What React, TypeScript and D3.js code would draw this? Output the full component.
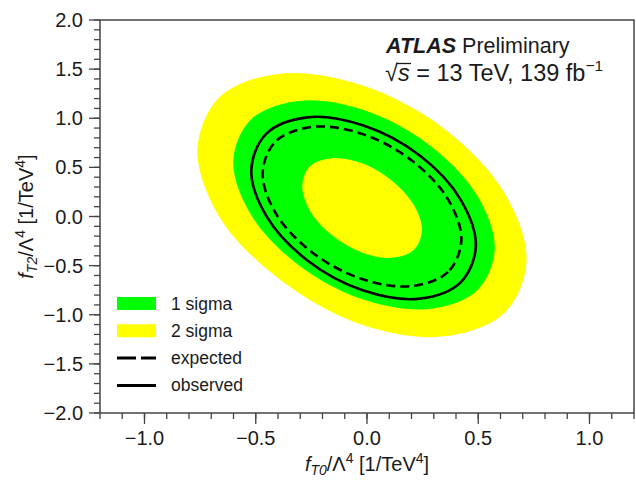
import React from "react";
import * as d3 from "d3";

// Axis ranges and tick labels
const xDomain: [number, number] = [-1.2, 1.2];
const yDomain: [number, number] = [-2.0, 2.0];
const xMajorTicks = [-1.0, -0.5, 0.0, 0.5, 1.0];
const yMajorTicks = [-2.0, -1.5, -1.0, -0.5, 0.0, 0.5, 1.0, 1.5, 2.0];

// Limit contours in the (fT0/Λ^4, fT2/Λ^4) plane, 1/TeV^4
const twoSigmaOuter: [number, number][] = [
  [0.717, -0.447], [0.618, -0.98], [0.348, -1.22], [-0.022, -1.101],
  [-0.392, -0.64], [-0.663, -0.004], [-0.762, 0.681], [-0.663, 1.214],
  [-0.392, 1.454], [-0.022, 1.335], [0.348, 0.891], [0.618, 0.238],
];
const oneSigmaOuter: [number, number][] = [
  [0.574, -0.33], [0.495, -0.752], [0.28, -0.941], [-0.013, -0.848],
  [-0.307, -0.495], [-0.522, 0.021], [-0.601, 0.564], [-0.522, 0.986],
  [-0.307, 1.176], [-0.013, 1.082], [0.28, 0.729], [0.495, 0.213],
];
const oneSigmaInner: [number, number][] = [
  [0.247, -0.142], [0.211, -0.339], [0.112, -0.421], [-0.022, -0.368],
  [-0.157, -0.192], [-0.256, 0.057], [-0.291, 0.316], [-0.256, 0.512],
  [-0.157, 0.594], [-0.022, 0.541], [0.112, 0.365], [0.211, 0.116],
];
const expectedLimit: [number, number][] = [
  [0.424, -0.24], [0.364, -0.564], [0.201, -0.708], [-0.022, -0.637],
  [-0.246, -0.366], [-0.409, 0.028], [-0.469, 0.444], [-0.409, 0.767],
  [-0.246, 0.912], [-0.022, 0.841], [0.201, 0.57], [0.364, 0.175],
];
const observedLimit: [number, number][] = [
  [0.489, -0.302], [0.421, -0.67], [0.237, -0.836], [-0.016, -0.753],
  [-0.268, -0.447], [-0.452, 0.003], [-0.52, 0.475], [-0.452, 0.843],
  [-0.268, 1.009], [-0.016, 0.926], [0.237, 0.62], [0.421, 0.17],
];

const legendLabels = ["1 sigma", "2 sigma", "expected", "observed"];

const YELLOW = "#ffff00";
const GREEN = "#00ff00";
const INK = "#1a1a1a";
const FRAME = "#444";
const FONT = "'Liberation Sans', Arial, Helvetica, sans-serif";

export default function App() {
  const W = 636;
  const H = 481;
  const left = 100, top = 20, right = 634, bottom = 413;

  const x = d3.scaleLinear().domain(xDomain).range([left, right]);
  const y = d3.scaleLinear().domain(yDomain).range([bottom, top]);

  const contour = d3
    .line<[number, number]>()
    .x((d) => x(d[0]))
    .y((d) => y(d[1]))
    .curve(d3.curveCatmullRomClosed.alpha(0.5));

  const xMinor = x.ticks(24);
  const yMinor = y.ticks(40);

  const legendX0 = 117;
  const legendX1 = 156;
  const legendY0 = 303.5;
  const legendStep = 27.3;

  const fmt = (t: number) => (t < 0 ? `\u2212${Math.abs(t).toFixed(1)}` : t.toFixed(1));

  return (
    <svg
      width={W}
      height={H}
      viewBox={`0 0 ${W} ${H}`}
      style={{ position: "fixed", left: 0, top: 0, background: "#fff" }}
      fontFamily={FONT}
    >
      <rect x={0} y={0} width={W} height={H} fill="#fff" />
      <defs>
        <clipPath id="plotArea">
          <rect x={left} y={top} width={right - left} height={bottom - top} />
        </clipPath>
      </defs>

      <g clipPath="url(#plotArea)">
        <path d={contour(twoSigmaOuter) ?? ""} fill={YELLOW} />
        <path d={contour(oneSigmaOuter) ?? ""} fill={GREEN} />
        <path d={contour(oneSigmaInner) ?? ""} fill={YELLOW} />
        <path
          d={contour(expectedLimit) ?? ""}
          fill="none"
          stroke="#000"
          strokeWidth={2.6}
          strokeDasharray="9 5"
        />
        <path d={contour(observedLimit) ?? ""} fill="none" stroke="#000" strokeWidth={2.6} />
      </g>

      {/* frame */}
      <rect
        x={left}
        y={top}
        width={right - left}
        height={bottom - top}
        fill="none"
        stroke={FRAME}
        strokeWidth={1.5}
      />

      {/* x axis ticks */}
      {xMinor.map((t) => (
        <line key={`xm${t}`} x1={x(t)} x2={x(t)} y1={bottom} y2={bottom + 6} stroke={FRAME} strokeWidth={1.3} />
      ))}
      {xMajorTicks.map((t) => (
        <g key={`xM${t}`}>
          <line x1={x(t)} x2={x(t)} y1={bottom} y2={bottom + 11} stroke={FRAME} strokeWidth={1.3} />
          <text x={x(t)} y={445} textAnchor="middle" fontSize={20} fill={INK}>
            {fmt(t)}
          </text>
        </g>
      ))}

      {/* y axis ticks */}
      {yMinor.map((t) => (
        <line key={`ym${t}`} x1={left - 6} x2={left} y1={y(t)} y2={y(t)} stroke={FRAME} strokeWidth={1.3} />
      ))}
      {yMajorTicks.map((t) => (
        <g key={`yM${t}`}>
          <line x1={left - 11} x2={left} y1={y(t)} y2={y(t)} stroke={FRAME} strokeWidth={1.3} />
          <text x={83} y={y(t) + 7} textAnchor="end" fontSize={20} fill={INK}>
            {fmt(t)}
          </text>
        </g>
      ))}

      {/* axis titles */}
      <text x={(left + right) / 2} y={471} textAnchor="middle" fontSize={20} fill={INK}>
        <tspan fontStyle="italic">f</tspan>
        <tspan fontStyle="italic" fontSize={14} dy={4}>T0</tspan>
        <tspan dy={-4}>/Λ</tspan>
        <tspan fontSize={14} dy={-8}>4</tspan>
        <tspan dy={8}> [1/TeV</tspan>
        <tspan fontSize={14} dy={-8}>4</tspan>
        <tspan dy={8}>]</tspan>
      </text>
      <text
        transform={`translate(33, ${(top + bottom) / 2}) rotate(-90)`}
        textAnchor="middle"
        fontSize={20}
        fill={INK}
      >
        <tspan fontStyle="italic">f</tspan>
        <tspan fontStyle="italic" fontSize={14} dy={4}>T2</tspan>
        <tspan dy={-4}>/Λ</tspan>
        <tspan fontSize={14} dy={-8}>4</tspan>
        <tspan dy={8}> [1/TeV</tspan>
        <tspan fontSize={14} dy={-8}>4</tspan>
        <tspan dy={8}>]</tspan>
      </text>

      {/* experiment label */}
      <text x={386} y={53} fontSize={21.5} fill={INK}>
        <tspan fontWeight="bold" fontStyle="italic">ATLAS</tspan>
        <tspan> Preliminary</tspan>
      </text>
      <text x={385} y={81} fontSize={23.5} fill={INK}>
        <tspan>√</tspan>
        <tspan fontStyle="italic">s</tspan>
        <tspan> = 13 TeV, 139 fb</tspan>
        <tspan fontSize={15.5} dy={-10}>−1</tspan>
      </text>
      <line x1={396.5} x2={411} y1={63.5} y2={63.5} stroke={INK} strokeWidth={1.3} />

      {/* legend */}
      <rect x={legendX0} y={legendY0 - 6.5} width={legendX1 - legendX0} height={13} fill={GREEN} />
      <rect x={legendX0} y={legendY0 + legendStep - 6.5} width={legendX1 - legendX0} height={13} fill={YELLOW} />
      <line
        x1={legendX0}
        x2={legendX1}
        y1={legendY0 + legendStep * 2}
        y2={legendY0 + legendStep * 2}
        stroke="#000"
        strokeWidth={3}
        strokeDasharray="19 5"
      />
      <line
        x1={legendX0}
        x2={legendX1}
        y1={legendY0 + legendStep * 3}
        y2={legendY0 + legendStep * 3}
        stroke="#000"
        strokeWidth={3}
      />
      {legendLabels.map((lab, i) => (
        <text key={lab} x={171} y={legendY0 + legendStep * i + 6} fontSize={17.5} fill={INK}>
          {lab}
        </text>
      ))}
    </svg>
  );
}
